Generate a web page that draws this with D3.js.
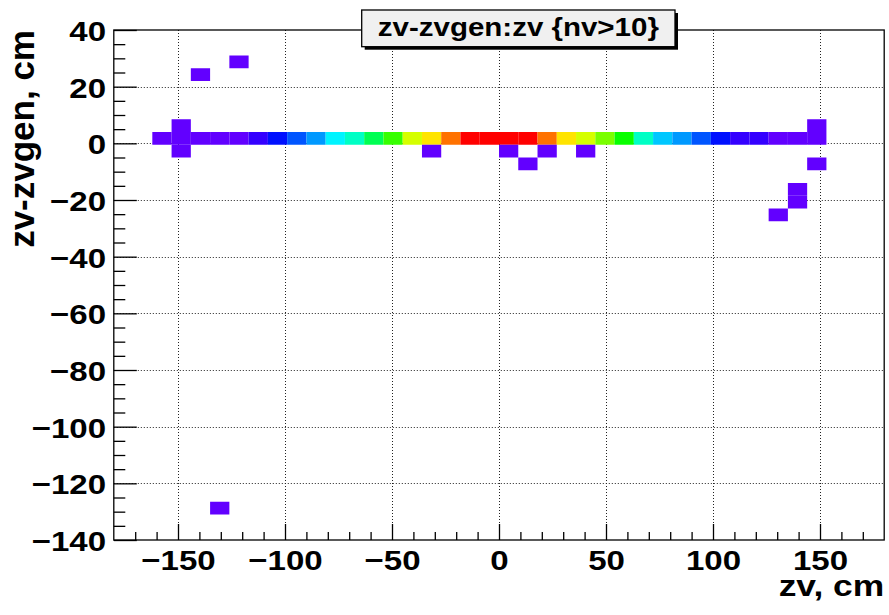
<!DOCTYPE html>
<html>
<head>
<meta charset="utf-8">
<script src="https://cdn.jsdelivr.net/npm/d3@7"></script>
<style>
  html, body { margin: 0; padding: 0; background: #fff; }
  svg { display: block; font-family: "Liberation Sans", Arial, Helvetica, sans-serif; font-weight: bold; }
</style>
</head>
<body>
<svg id="chart" width="889" height="615"></svg>
<script>
// ---------------- data ----------------
const titleText = "zv-zvgen:zv {nv>10}";
const xTitle = "zv, cm";
const yTitle = "zv-zvgen, cm";

// histogram definition (40 x 40 bins)
const xRange = [-180, 180];
const yRange = [-140, 40];
const binW = 9;     // zv bin width (cm)
const binH = 4.5;   // zv-zvgen bin height (cm)

// main row: zv-zvgen bin [-0.5, 4]
const rowDz = 1.75;
const rowZv = [-157.5, -148.5, -139.5, -130.5, -121.5, -112.5, -103.5, -94.5, -85.5, -76.5,
               -67.5, -58.5, -49.5, -40.5, -31.5, -22.5, -13.5, -4.5, 4.5, 13.5,
               22.5, 31.5, 40.5, 49.5, 58.5, 67.5, 76.5, 85.5, 94.5, 103.5,
               112.5, 121.5, 130.5, 139.5, 148.5];
const rowCounts = [2, 3, 3, 2, 3, 9, 21, 33, 45, 61,
                   73, 93, 117, 145, 157, 177, 196, 200, 198, 197,
                   178, 158, 146, 129, 109, 74, 53, 46, 34, 22,
                   10, 9, 3, 2, 3];

// isolated cells
const outZv     = [-148.5, -148.5, -31.5, 4.5, 13.5, 22.5, 40.5, 148.5, 148.5, 139.5, 139.5, 130.5, -139.5, -121.5, -130.5];
const outDz     = [6.25, -2.75, -2.75, -2.75, -7.25, -2.75, -2.75, 6.25, -7.25, -16.25, -20.75, -25.25, 24.25, 28.75, -128.75];
const outCounts = [1, 1, 1, 1, 1, 1, 1, 1, 1, 1, 1, 1, 1, 1, 1];

const xMajorTicks = [-150, -100, -50, 0, 50, 100, 150];
const xMinorTicks = [-170, -160, -140, -130, -120, -110, -90, -80, -70, -60, -40, -30, -20, -10,
                     10, 20, 30, 40, 60, 70, 80, 90, 110, 120, 130, 140, 160, 170];
const yMajorTicks = [40, 20, 0, -20, -40, -60, -80, -100, -120, -140];
const yMinorTicks = [35, 30, 25, 15, 10, 5, -5, -10, -15, -25, -30, -35, -45, -50, -55, -65, -70, -75,
                     -85, -90, -95, -105, -110, -115, -125, -130, -135];
const yGridTicks = [20, 0, -20, -40, -60, -80, -100, -120];

// ---------------- layout ----------------
const frame = { left: 113.8, right: 884.2, top: 30, bottom: 540 };
const SX = 1.18; // horizontal stretch of the text

const svg = d3.select("#chart");

const x = d3.scaleLinear().domain(xRange).range([frame.left, frame.right]);
const y = d3.scaleLinear().domain(yRange).range([frame.bottom, frame.top]);

// ROOT-like rainbow palette, 50 levels
const cMax = d3.max(rowCounts.concat(outCounts));
const nLevels = 50;
const level = d3.scaleQuantize().domain([0, cMax]).range(d3.range(nLevels));
const color = c => d3.hsl(263 - 263 * level(c) / (nLevels - 1), 1, 0.5).formatHex();

// grid
const grid = svg.append("g").attr("stroke", "#222").attr("stroke-width", 1)
  .attr("stroke-dasharray", "1,2");
grid.selectAll("line.vx").data(xMajorTicks).join("line")
  .attr("x1", d => Math.round(x(d)) + 0.5).attr("x2", d => Math.round(x(d)) + 0.5)
  .attr("y1", frame.top).attr("y2", frame.bottom);
grid.selectAll("line.hy").data(yGridTicks).join("line")
  .attr("y1", d => Math.round(y(d)) + 0.5).attr("y2", d => Math.round(y(d)) + 0.5)
  .attr("x1", frame.left).attr("x2", frame.right);

// cells
const cells = [];
rowZv.forEach((zv, i) => cells.push({ zv, dz: rowDz, c: rowCounts[i] }));
outZv.forEach((zv, i) => cells.push({ zv, dz: outDz[i], c: outCounts[i] }));

svg.append("g").selectAll("rect").data(cells).join("rect")
  .attr("x", d => x(d.zv - binW / 2))
  .attr("width", d => x(d.zv + binW / 2) - x(d.zv - binW / 2))
  .attr("y", d => y(d.dz + binH / 2))
  .attr("height", d => y(d.dz - binH / 2) - y(d.dz + binH / 2))
  .attr("fill", d => color(d.c));

// frame
svg.append("rect")
  .attr("x", frame.left).attr("y", frame.top)
  .attr("width", frame.right - frame.left).attr("height", frame.bottom - frame.top)
  .attr("fill", "none").attr("stroke", "#000").attr("stroke-width", 1.3);

const fmt = d => d3.format("d")(d);

// x axis (ticks inside)
const xAxisMajor = d3.axisBottom(x).tickValues(xMajorTicks).tickSizeInner(-16).tickSizeOuter(0).tickPadding(10).tickFormat(fmt);
const gx = svg.append("g").attr("transform", `translate(0,${frame.bottom})`).call(xAxisMajor);
gx.select(".domain").remove();
gx.selectAll("line").attr("stroke", "#000").attr("stroke-width", 1.3);
gx.selectAll("text").attr("font-size", 28).attr("font-weight", "bold").attr("fill", "#000")
  .attr("font-family", "Liberation Sans, Arial, sans-serif")
  .attr("transform", `scale(${SX},1)`);

const xAxisMinor = d3.axisBottom(x).tickValues(xMinorTicks).tickSizeInner(-8).tickSizeOuter(0).tickFormat("");
const gxm = svg.append("g").attr("transform", `translate(0,${frame.bottom})`).call(xAxisMinor);
gxm.select(".domain").remove();
gxm.selectAll("line").attr("stroke", "#000").attr("stroke-width", 1.3);

// y axis (ticks inside)
const yAxisMajor = d3.axisLeft(y).tickValues(yMajorTicks).tickSizeInner(-23).tickSizeOuter(0).tickPadding(6.6).tickFormat(fmt);
const gy = svg.append("g").attr("transform", `translate(${frame.left},0)`).call(yAxisMajor);
gy.select(".domain").remove();
gy.selectAll("line").attr("stroke", "#000").attr("stroke-width", 1.3);
gy.selectAll("text").attr("font-size", 28).attr("font-weight", "bold").attr("fill", "#000")
  .attr("font-family", "Liberation Sans, Arial, sans-serif")
  .attr("x", -6.6).attr("dy", "0.38em")
  .attr("transform", `scale(${SX},1)`);

const yAxisMinor = d3.axisLeft(y).tickValues(yMinorTicks).tickSizeInner(-11.5).tickSizeOuter(0).tickFormat("");
const gym = svg.append("g").attr("transform", `translate(${frame.left},0)`).call(yAxisMinor);
gym.select(".domain").remove();
gym.selectAll("line").attr("stroke", "#000").attr("stroke-width", 1.3);

// axis titles
svg.append("text")
  .attr("transform", `translate(${frame.right},596) scale(${SX},1)`)
  .attr("text-anchor", "end").attr("font-size", 30).attr("fill", "#000")
  .text(xTitle);

svg.append("text")
  .attr("transform", `translate(34,${frame.top}) rotate(-90)`)
  .attr("text-anchor", "end").attr("font-size", 35).attr("fill", "#000")
  .text(yTitle);

// title box with shadow
const tb = { x: 361.7, y: 10, w: 313.3, h: 36.7 };
svg.append("rect").attr("x", tb.x + 3).attr("y", tb.y + 3).attr("width", tb.w).attr("height", tb.h).attr("fill", "#000");
svg.append("rect").attr("x", tb.x).attr("y", tb.y).attr("width", tb.w).attr("height", tb.h)
  .attr("fill", "#f0f0f0").attr("stroke", "#000").attr("stroke-width", 1.3);
svg.append("text")
  .attr("transform", `translate(${tb.x + tb.w / 2},36) scale(${SX},1)`)
  .attr("text-anchor", "middle").attr("font-size", 25).attr("fill", "#000")
  .text(titleText);
</script>
</body>
</html>
